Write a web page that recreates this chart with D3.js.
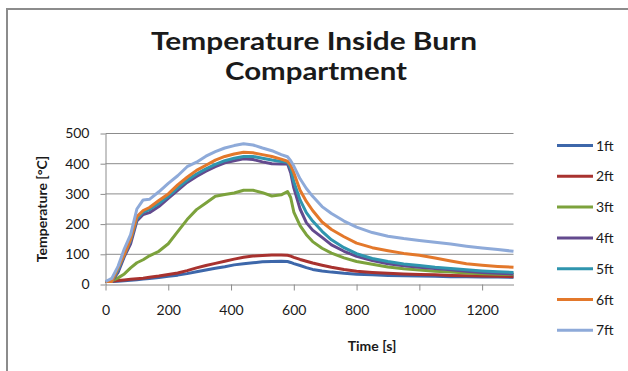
<!DOCTYPE html>
<meta charset="utf-8">
<head>
<style>
  body { margin: 0; background: #fff; }
  svg { display: block; }
  text { font-family: Lato, "Open Sans", sans-serif; fill: #1a1a1a; }
  .grid line { stroke: #8c8c8c; stroke-width: 1px; }
  .axis path, .axis line { stroke: #8c8c8c; }
  .axis text { font-size: 14px; }
  .series { fill: none; stroke-width: 3px; stroke-linejoin: round; }
</style>
<title>Temperature Inside Burn Compartment</title>
</head>
<body>
<svg id="chart" width="628" height="371"></svg>
<script src="https://d3js.org/d3.v7.min.js"></script>
<script>
// time samples [s]
var times = [0,20,40,60,80,100,120,140,170,200,230,260,290,320,350,380,410,440,470,500,530,560,580,590,600,620,640,660,690,720,760,800,850,900,950,1000,1050,1100,1150,1200,1250,1300];

// temperatures [°C] at each height
var ft1 = [10,10,11,12,14,16,18,20,23,27,31,36,42,48,54,59,65,69,72,75,76,77,76,73,69,63,56,50,45,41,37,34,32,30,29,28,27,26,26,25,25,24];
var ft2 = [10,11,13,15,17,19,21,24,28,33,38,46,55,63,70,77,84,90,94,96,98,98,97,94,90,83,77,71,64,57,50,44,40,37,35,33,32,30,29,28,27,26];
var ft3 = [10,12,22,35,55,72,82,95,110,135,175,215,248,270,292,298,303,312,312,304,293,297,308,288,240,195,165,142,120,104,88,76,67,58,52,48,44,41,38,36,34,33];
var ft4 = [10,10,40,92,135,210,232,238,258,285,312,338,358,375,390,403,410,416,414,406,400,399,400,370,320,250,205,180,156,131,110,93,79,69,62,57,53,49,44,40,37,35];
var ft5 = [10,10,48,98,145,218,240,248,268,292,320,345,366,383,398,410,418,424,424,418,412,407,405,385,340,280,238,210,176,148,122,102,86,76,68,63,57,53,49,45,42,40];
var ft6 = [10,10,55,100,150,225,245,255,278,300,330,355,378,395,412,424,432,438,436,430,424,415,408,395,370,312,275,245,207,182,158,137,122,112,103,97,88,78,69,64,60,57];
var ft7 = [10,20,60,118,165,250,280,282,307,335,360,390,405,425,440,452,460,466,462,452,443,430,423,410,392,350,318,292,258,235,210,190,172,160,152,146,140,134,127,121,116,110];

var seriesNames = ["1ft","2ft","3ft","4ft","5ft","6ft","7ft"];
var seriesValues = [ft1, ft2, ft3, ft4, ft5, ft6, ft7];
var seriesColors = ["#3d67aa","#a8322f","#7ca23c","#634a8e","#2f95ae","#e3782b","#8eaad9"];

var xTicks = [0,200,400,600,800,1000,1200];
var yTicks = [0,100,200,300,400,500];

var svg = d3.select("#chart");

var x = d3.scaleLinear().domain([0, 1300]).range([105.5, 513.5]);
var y = d3.scaleLinear().domain([0, 500]).range([284.5, 133.5]);

// outer frame (top and left edges visible)
svg.append("path")
    .attr("d", "M7,371 L7,9 L628,9")
    .attr("fill", "none")
    .attr("stroke", "#8c8c8c")
    .attr("stroke-width", 2);

// title
var title = svg.append("g")
    .attr("font-weight", "bold")
    .attr("font-size", 25)
    .attr("text-anchor", "middle");
title.append("text")
    .attr("x", 314).attr("y", 50)
    .attr("textLength", 326)
    .attr("lengthAdjust", "spacingAndGlyphs")
    .text("Temperature Inside Burn");
title.append("text")
    .attr("x", 316).attr("y", 80)
    .attr("textLength", 182)
    .attr("lengthAdjust", "spacingAndGlyphs")
    .text("Compartment");

// gridlines
svg.append("g")
    .attr("class", "grid")
  .selectAll("line")
  .data(yTicks.slice(1))
  .enter().append("line")
    .attr("x1", x(0)).attr("x2", x(1300))
    .attr("y1", function(d) { return y(d); })
    .attr("y2", function(d) { return y(d); });

// axes
svg.append("g")
    .attr("class", "axis")
    .attr("transform", "translate(" + x(0) + ",0)")
    .call(d3.axisLeft(y).tickValues(yTicks).tickSize(5).tickPadding(11).tickSizeOuter(0));

svg.append("g")
    .attr("class", "axis")
    .attr("transform", "translate(0," + y(0) + ")")
    .call(d3.axisBottom(x).tickValues(xTicks).tickFormat(d3.format("d"))
      .tickSize(6).tickPadding(15).tickSizeOuter(0));

svg.selectAll(".axis .domain").attr("stroke", "#8c8c8c");

// axis titles
svg.append("text")
    .attr("transform", "translate(47,209) rotate(-90)")
    .attr("text-anchor", "middle")
    .attr("font-weight", "bold")
    .attr("font-size", 14)
    .text("Temperature [°C]");

svg.append("text")
    .attr("x", 372).attr("y", 351)
    .attr("text-anchor", "middle")
    .attr("font-weight", "bold")
    .attr("font-size", 14)
    .text("Time [s]");

// series lines
var line = d3.line()
    .x(function(d, i) { return x(times[i]); })
    .y(function(d) { return y(d); });

svg.append("g")
  .selectAll("path")
  .data(seriesValues)
  .enter().append("path")
    .attr("class", "series")
    .attr("stroke", function(d, i) { return seriesColors[i]; })
    .attr("d", line);

// legend
var legend = svg.append("g")
  .selectAll("g")
  .data(seriesNames)
  .enter().append("g")
    .attr("transform", function(d, i) { return "translate(557," + (145.5 + i * 30.8) + ")"; });

legend.append("line")
    .attr("x1", 0).attr("x2", 36)
    .attr("stroke-width", 3)
    .attr("stroke", function(d, i) { return seriesColors[i]; });

legend.append("text")
    .attr("x", 39).attr("y", 5)
    .attr("font-size", 14)
    .text(function(d) { return d; });
</script>
</body>
